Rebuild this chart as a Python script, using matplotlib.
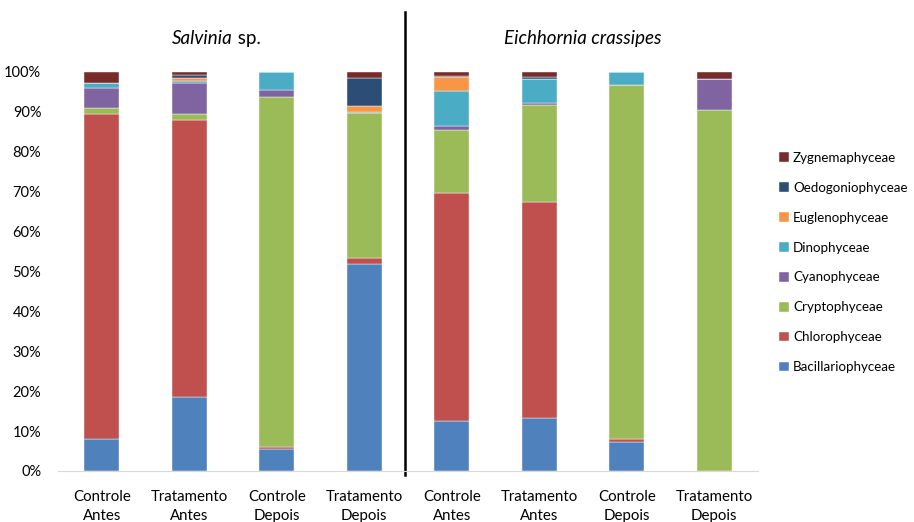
import matplotlib
matplotlib.use("Agg")
import matplotlib.pyplot as plt
import numpy as np

plt.rcParams['font.family'] = ['Lato', 'DejaVu Sans']

categories = ["Controle\nAntes", "Tratamento\nAntes", "Controle\nDepois", "Tratamento\nDepois",
              "Controle\nAntes", "Tratamento\nAntes", "Controle\nDepois", "Tratamento\nDepois"]

# relative abundance (%) per class; first four bars Salvinia sp., last four Eichhornia crassipes
bacillariophyceae = [8.0, 18.6, 5.5, 51.9, 12.5, 13.3, 7.3, 0.0]
chlorophyceae     = [81.5, 69.4, 0.6, 1.6, 57.2, 54.1, 0.8, 0.0]
cryptophyceae     = [1.4, 1.5, 87.6, 36.1, 15.8, 24.4, 88.6, 90.5]
cyanophyceae      = [5.1, 7.7, 1.9, 0.3, 1.0, 0.4, 0.0, 7.7]
dinophyceae       = [1.2, 0.5, 4.4, 0.0, 8.8, 6.1, 3.3, 0.0]
euglenophyceae    = [0.0, 0.9, 0.0, 1.7, 3.4, 0.0, 0.0, 0.0]
oedogoniophyceae  = [0.0, 0.7, 0.0, 6.8, 0.4, 0.4, 0.0, 0.0]
zygnemaphyceae    = [2.8, 0.7, 0.0, 1.6, 0.9, 1.3, 0.0, 1.8]

series_names = ["Bacillariophyceae", "Chlorophyceae", "Cryptophyceae", "Cyanophyceae",
                "Dinophyceae", "Euglenophyceae", "Oedogoniophyceae", "Zygnemaphyceae"]
series_values = [bacillariophyceae, chlorophyceae, cryptophyceae, cyanophyceae,
                 dinophyceae, euglenophyceae, oedogoniophyceae, zygnemaphyceae]
colors = ["#4F81BD", "#C0504D", "#9BBB59", "#8064A2",
          "#4BACC6", "#F79646", "#2C4D75", "#772C2A"]

group_titles = ["Salvinia sp.", "Eichhornia crassipes"]

fig = plt.figure(figsize=(9.14, 5.22), dpi=100)
ax = fig.add_axes([58 / 914, 51 / 522, 700 / 914, 399 / 522])

x = np.arange(len(categories))
bottom = np.zeros(len(categories))
handles = []
for name, vals, col in zip(series_names, series_values, colors):
    v = np.array(vals) / 100.0
    b = ax.bar(x, v, width=0.4, bottom=bottom, color=col, label=name,
               edgecolor="white", linewidth=0.3)
    handles.append(b)
    bottom += v

ax.set_xlim(-0.5, len(categories) - 0.5)
ax.set_ylim(0, 1)
ax.set_yticks(np.arange(0, 1.01, 0.1))
ax.set_yticklabels([f"{int(round(t * 100))}%" for t in np.arange(0, 1.01, 0.1)], fontsize=10.5)
ax.set_xticks(x)
ax.set_xticklabels(categories, fontsize=10.8, linespacing=1.4)
ax.tick_params(axis='x', length=0, pad=14)
ax.tick_params(axis='y', length=0, pad=12)
for s in ["top", "right", "left"]:
    ax.spines[s].set_visible(False)
ax.spines["bottom"].set_color("#d9d9d9")

# separator between the two macrophyte groups
ax.plot([3.47, 3.47], [-0.01, 1.15], color="black", linewidth=1.8, clip_on=False)

ax.text(1.5, 1.085, "Salvinia", fontsize=13.5, style="italic", ha="right", va="center")
ax.text(1.5, 1.085, " sp.", fontsize=13.5, ha="left", va="center")
ax.text(5.5, 1.085, group_titles[1], fontsize=13.5, style="italic", ha="center", va="center")

leg = fig.legend(handles[::-1], series_names[::-1], loc="upper left",
                 bbox_to_anchor=(767 / 914, 1 - 140 / 522), frameon=False,
                 fontsize=9.6, handlelength=0.75, handleheight=0.75,
                 handletextpad=0.3, labelspacing=1.34)

fig.savefig("out.png", dpi=100)
